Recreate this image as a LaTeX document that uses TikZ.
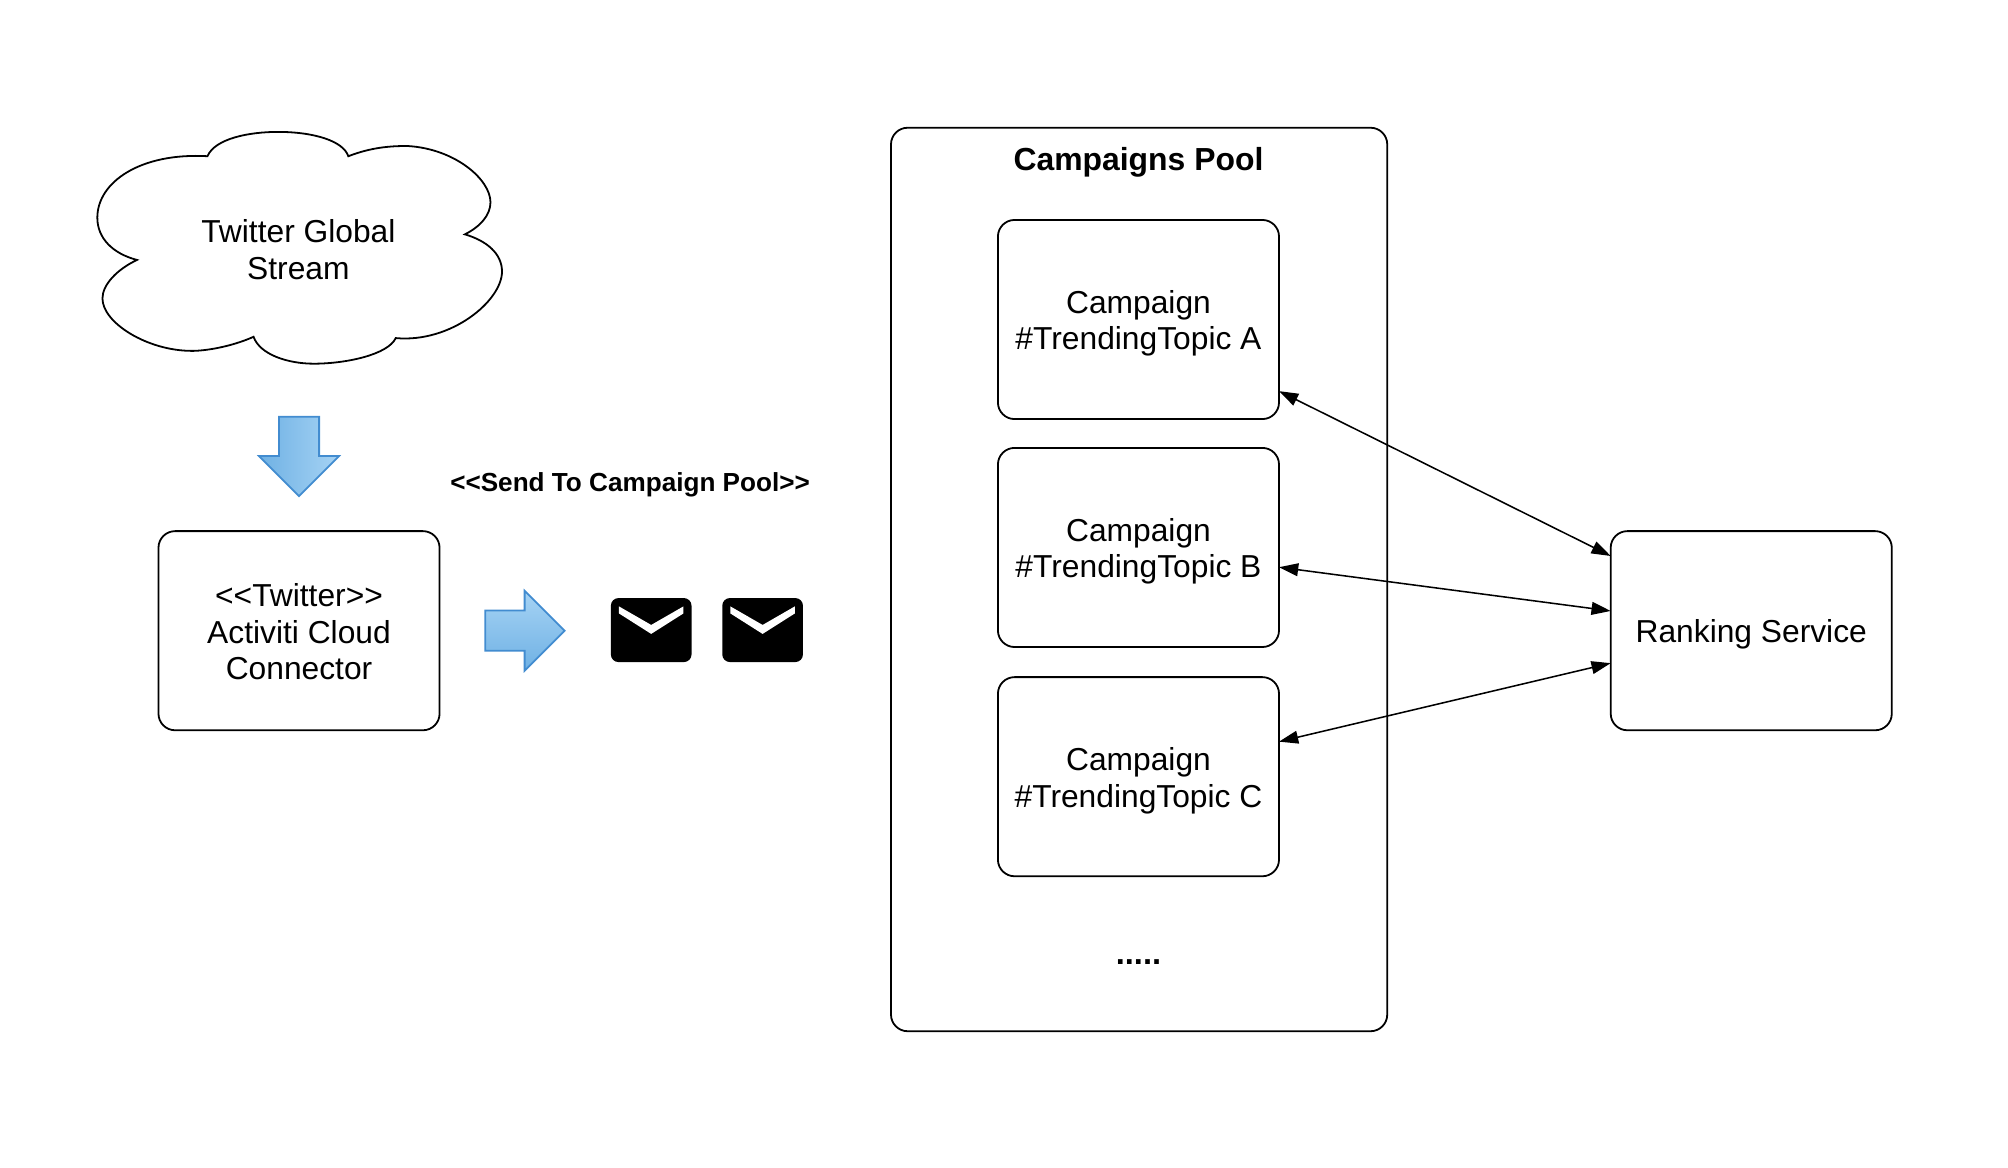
\documentclass[tikz,border=0pt]{standalone}
\usepackage{fontspec}
\setmainfont{Liberation Sans}
\usetikzlibrary{calc,arrows.meta,shapes.arrows}
\definecolor{arrowline}{HTML}{428CD0}
\definecolor{arrowlight}{HTML}{A6D3F4}
\definecolor{arrowdark}{HTML}{6FB1E4}
\newcommand{\lifted}[1][24pt]{\rule{0pt}{#1}}
\tikzset{
  labeltext/.style={align=center, inner sep=0pt, font=\fontsize{24.8}{28.5}\selectfont},
  boldtext/.style={align=center, inner sep=0pt, font=\fontsize{#1}{28}\selectfont\bfseries},
  service/.style={draw, line width=1.4pt, rounded corners=13pt, outer sep=0pt, inner sep=0pt, minimum width=219.5pt, minimum height=155.5pt, labeltext},
  blockarrow/.style={single arrow, draw=arrowline, line width=1.4pt, minimum height=62pt, minimum width=62pt, single arrow head extend=15.5pt, inner sep=15pt, outer sep=0pt},
  envelope/.style={fill=black, rounded corners=6pt, minimum width=63pt, minimum height=50pt, inner sep=0pt, outer sep=0pt},
  exchange/.style={{Triangle[length=15pt,width=10pt]}-{Triangle[length=15pt,width=10pt]}, line width=1.2pt}
}
\begin{document}
\begin{tikzpicture}[x=1pt, y=-1pt]
\useasboundingbox (0,0) rectangle (1568,912);
% left side
\draw[line width=1.4pt] (162,122) .. controls (168,108) and (195,103) .. (217,103)
  .. controls (245,103) and (268,110) .. (272,122)
  .. controls (290,115) and (305,114) .. (318,114)
  .. controls (355,116) and (383,140) .. (383,158)
  .. controls (383,168) and (375,177) .. (363,183)
  .. controls (380,188) and (392,198) .. (392,212)
  .. controls (392,235) and (352,268) .. (309,264)
  .. controls (303,277) and (270,284) .. (245,284)
  .. controls (225,284) and (203,277) .. (198,263)
  .. controls (180,271) and (160,274) .. (150,274)
  .. controls (115,274) and (80,252) .. (80,233)
  .. controls (80,222) and (92,210) .. (107,203)
  .. controls (88,198) and (76,186) .. (76,170)
  .. controls (76,142) and (110,119) .. (162,122) -- cycle;
\node[labeltext] (stream) at (233,195) {Twitter Global\\Stream};
\node[blockarrow, rotate=-90, left color=arrowdark, right color=arrowlight] (arrowdown) at (233.5,348.5) {};
\node[service] (connector) at (233.5,492.5) {\lifted[19.5pt]<{}<Twitter>{}>\\Activiti Cloud\\Connector};
\node[blockarrow, top color=arrowlight, bottom color=arrowdark] (arrowright) at (402,492.5) {};
\node[boldtext=20.4] (sendlabel) at (492,378.5) {<{}<Send To Campaign Pool>{}>};
\node[envelope] (envA) at (508.5,492) {};
\node[envelope] (envB) at (595.5,492) {};
\foreach \e in {envA,envB}
  \fill[white] ($(\e.north west)+(6.3,6.5)$) -- ($(\e.north)+(0,21)$) -- ($(\e.north east)+(-6.3,6.5)$) -- ($(\e.north east)+(-6.3,12)$) -- ($(\e.north)+(0,28)$) -- ($(\e.north west)+(6.3,12)$) -- cycle;
% campaigns
\node[draw, line width=1.4pt, rounded corners=13pt, minimum width=387.5pt, minimum height=705.5pt, outer sep=0pt] (pool) at (889.5,452.5) {};
\node[boldtext=24.9] (pooltitle) at (889,126.5) {Campaigns Pool};
\node[service] (campA) at (889,249.5) {\lifted Campaign\\\#TrendingTopic A};
\node[service] (campB) at (889,427.5) {\lifted Campaign\\\#TrendingTopic B};
\node[service] (campC) at (889,606.5) {\lifted Campaign\\\#TrendingTopic C};
\node[boldtext=25.5] (more) at (889,751) {.....};
\node[service] (ranking) at (1367.5,492.5) {\lifted Ranking Service};
\draw[exchange] (campA.-27) -- (ranking.152.7);
\draw[exchange] (campB.-8) -- (ranking.172);
\draw[exchange] (campC.14.4) -- (ranking.193.6);
\end{tikzpicture}
\end{document}
